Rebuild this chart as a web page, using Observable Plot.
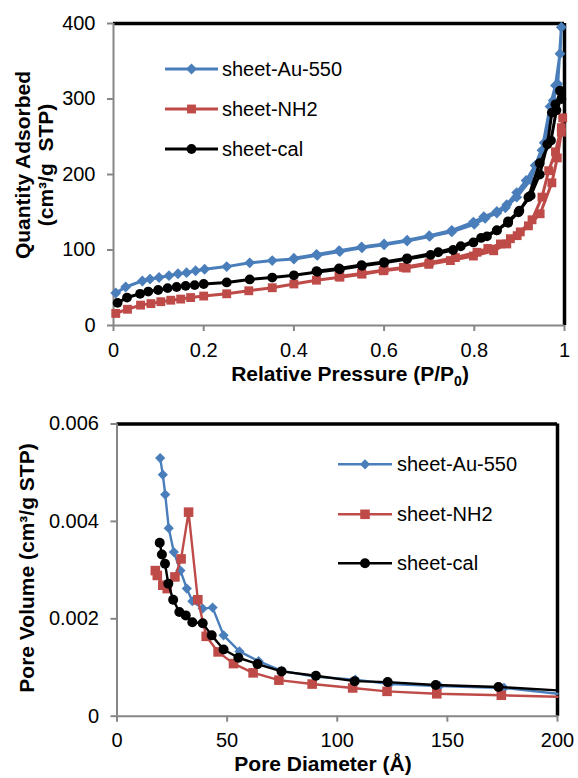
<!DOCTYPE html>
<html>
<head>
<meta charset="utf-8">
<script src="https://cdn.jsdelivr.net/npm/d3@7"></script>
<script src="https://cdn.jsdelivr.net/npm/@observablehq/plot@0.6"></script>
<style>
  body { margin: 0; background: white; }
  #top svg, #bot svg { display: block; }
</style>
</head>
<body>
<div id="top"></div>
<div id="bot"></div>
<script>
// ---------- DATA ----------
const seriesNames = ["sheet-Au-550", "sheet-NH2", "sheet-cal"];

// N2 isotherms: [P/P0, quantity adsorbed] (adsorption branch then desorption branch)
const auIso = [
  [0.005,43],[0.027,51],[0.064,59],[0.081,61.5],[0.101,63.5],[0.123,66],[0.143,68.5],[0.162,70],[0.182,72.5],[0.202,74.5],
  [0.251,78],[0.302,83],[0.352,86],[0.40,88],[0.452,93],[0.502,98],[0.551,103],[0.60,107],[0.651,112],[0.701,118],
  [0.75,124],[0.80,134],[0.824,142],[0.85,149],[0.869,156],[0.894,170],[0.925,193],[0.95,232],[0.968,290],[0.98,318],
  [0.99,360],[0.993,395],
  [0.985,320],[0.975,298],[0.955,242],[0.935,212],[0.915,192],[0.894,176],[0.872,160],[0.85,151],[0.821,144],[0.798,137],
  [0.75,126],[0.70,119],[0.651,113],[0.60,108],[0.55,104],[0.50,99],[0.45,94],[0.40,89]
];
const nhIso = [
  [0.005,16],[0.031,21.5],[0.06,27],[0.083,29],[0.105,31.5],[0.127,33.5],[0.149,35],[0.171,37],[0.20,39],[0.251,42],
  [0.30,46],[0.352,50],[0.40,55],[0.45,60],[0.502,64],[0.551,68],[0.598,72.5],[0.649,76],[0.699,81],[0.747,86],
  [0.798,92],[0.843,99],[0.872,108],[0.895,119],[0.92,132],[0.946,148],[0.972,189],[0.984,222],[0.993,256],[0.996,275],
  [0.993,262],[0.98,230],[0.965,205],[0.95,170],[0.928,140],[0.902,124],[0.88,115],[0.858,108],[0.83,102],[0.806,97],
  [0.758,90],[0.70,83],[0.643,77],[0.60,73.5],[0.55,69],[0.50,65]
];
const calIso = [
  [0.009,30],[0.03,37],[0.059,42],[0.077,45],[0.099,47],[0.12,49.5],[0.14,51],[0.16,52.5],[0.18,53.5],[0.20,55],
  [0.251,57],[0.302,61],[0.352,63.5],[0.40,66.5],[0.452,71],[0.502,74.5],[0.551,79],[0.60,83],[0.651,88],[0.703,93.5],
  [0.753,100],[0.798,110],[0.828,118],[0.85,126],[0.875,136],[0.898,150],[0.92,170],[0.945,215],[0.97,245],[0.982,285],
  [0.99,311],
  [0.993,300],[0.98,293],[0.972,282],[0.962,240],[0.945,200],[0.925,172],[0.9,152],[0.875,138],[0.85,126],[0.815,116],
  [0.77,105],[0.72,97],[0.651,89],[0.60,84],[0.55,80],[0.50,75.5],[0.45,72]
];

// Pore size distributions: [pore diameter (Å), pore volume]
const auPSD = [
  [19.6,0.00530],[20.8,0.00496],[21.9,0.00455],[23.5,0.00386],[25.8,0.00337],[28.8,0.00299],[31.7,0.00262],[34.2,0.00236],
  [38.9,0.00221],[43.4,0.00223],[48.4,0.00166],[55.6,0.00133],[64.3,0.00113],[74.7,0.00093],[90.3,0.00081],[108.2,0.00075],
  [123.8,0.00066],[146.4,0.00062],[175.7,0.00058],[200,0.00046]
];
const nhPSD = [
  [17.4,0.00299],[18.3,0.00289],[20.8,0.00269],[22.8,0.00262],[26.3,0.00286],[29.1,0.00323],[32.5,0.00419],[36.7,0.00239],
  [40.5,0.00164],[45.9,0.00132],[52.9,0.00108],[61.8,0.00089],[73.5,0.00074],[88.6,0.00066],[107,0.00058],[122.6,0.00051],
  [145.2,0.00046],[174.5,0.00043],[200,0.00040]
];
const calPSD = [
  [19.4,0.00356],[20.4,0.00332],[21.8,0.00313],[23.3,0.00272],[25.5,0.00239],[28.3,0.00214],[31.2,0.00207],[34.2,0.00193],
  [38.9,0.00191],[43,0.00166],[48.4,0.00137],[55.1,0.00120],[63.8,0.00107],[74.7,0.00092],[90.3,0.00083],[107.9,0.00072],
  [122.9,0.00070],[144.7,0.00064],[173.2,0.00060],[200,0.00053]
];

const isoXTicks = [0, 0.2, 0.4, 0.6, 0.8, 1];
const isoYTicks = [0, 100, 200, 300, 400];
const psdXTicks = [0, 50, 100, 150, 200];
const psdYTicks = [0, 0.002, 0.004, 0.006];

// ---------- STYLE ----------
const FONT = "'Liberation Sans', Arial, Helvetica, sans-serif";
const BLUE = "#4a7ebb", RED = "#be4b48", BLACK = "#000000", GRAY = "#868686";
const colors = [BLUE, RED, BLACK];
const symbols = ["diamond2", "square", "circle"];

const rows = pairs => pairs.map(([x, y]) => ({x, y}));

function seriesMarks(datasets, radii, lw, xMax) {
  const marks = [];
  datasets.forEach((d, i) => {
    const data = rows(d);
    marks.push(Plot.line(data, {x: "x", y: "y", stroke: colors[i], strokeWidth: lw, curve: "linear"}));
    marks.push(Plot.dot(data.filter(p => xMax == null || p.x < xMax),
      {x: "x", y: "y", symbol: symbols[i], r: radii[i], fill: colors[i]}));
  });
  return marks;
}

function addLegend(svg, x0, x1, tx, ys, radii, lw) {
  const g = d3.select(svg).append("g").attr("text-anchor", "start");
  seriesNames.forEach((name, i) => {
    const y = ys[i];
    g.append("line").attr("x1", x0).attr("x2", x1).attr("y1", y).attr("y2", y)
      .attr("stroke", colors[i]).attr("stroke-width", lw);
    const sym = i === 0 ? d3.symbolDiamond2 : i === 1 ? d3.symbolSquare : d3.symbolCircle;
    g.append("path").attr("d", d3.symbol(sym, Math.PI * radii[i] * radii[i])())
      .attr("transform", `translate(${(x0 + x1) / 2},${y})`).attr("fill", colors[i]);
    g.append("text").attr("x", tx).attr("y", y).attr("dy", "0.35em")
      .attr("text-anchor", "start")
      .attr("font-family", FONT).attr("font-size", 20).attr("fill", "black").text(name);
  });
}

function boldText(svg, attrs) {
  const t = d3.select(svg).append("text")
    .attr("font-family", FONT).attr("font-size", 21).attr("font-weight", "bold").attr("fill", "black");
  for (const k in attrs) t.attr(k, attrs[k]);
  return t;
}

// ---------- TOP: isotherms ----------
const topR = [4.9, 5.0, 4.9];
const svgTop = Plot.plot({
  width: 578, height: 390,
  marginLeft: 113, marginRight: 14, marginTop: 23, marginBottom: 65,
  x: {domain: [0, 1]},
  y: {domain: [0, 400]},
  style: {fontFamily: FONT, fontSize: "20px", color: "black", background: "white"},
  marks: [
    Plot.ruleY([400], {stroke: BLACK, strokeWidth: 3.5}),
    Plot.ruleX([1], {stroke: BLACK, strokeWidth: 3.5}),
    Plot.ruleX([0], {stroke: GRAY, strokeWidth: 2}),
    Plot.ruleY([0], {stroke: GRAY, strokeWidth: 2}),
    ...seriesMarks([auIso, nhIso, calIso], topR, 3, null),
    Plot.axisX({ticks: isoXTicks, tickFormat: d => String(d), tickSize: 6, tickPadding: 11,
      stroke: GRAY, strokeWidth: 2, label: null}),
    Plot.axisY({ticks: isoYTicks, tickFormat: d => String(d), tickSize: 6, tickPadding: 12,
      stroke: GRAY, strokeWidth: 2, label: null})
  ]
});
addLegend(svgTop, 165, 218, 222, [69, 109, 149], topR, 3);
{
  const t = boldText(svgTop, {x: 350, y: 381, "text-anchor": "middle"});
  t.append("tspan").text("Relative Pressure (P/P");
  t.append("tspan").attr("font-size", 14).attr("dy", 5).text("0");
  t.append("tspan").attr("dy", -5).text(")");
  boldText(svgTop, {transform: "translate(30,165) rotate(-90)", "text-anchor": "middle"}).text("Quantity Adsorbed");
  boldText(svgTop, {transform: "translate(53,165) rotate(-90)", "text-anchor": "middle"})
    .attr("xml:space", "preserve").text("(cm³/g  STP)");
}
document.getElementById("top").appendChild(svgTop);

// ---------- BOTTOM: pore size distribution ----------
const botR = [4.6, 5.4, 5.0];
const svgBot = Plot.plot({
  width: 578, height: 388,
  marginLeft: 116.5, marginRight: 21, marginTop: 33.5, marginBottom: 62.3,
  x: {domain: [0, 200]},
  y: {domain: [0, 0.006]},
  style: {fontFamily: FONT, fontSize: "20px", color: "black", background: "white"},
  marks: [
    Plot.ruleY([0.006], {stroke: BLACK, strokeWidth: 3.5}),
    Plot.ruleX([200], {stroke: BLACK, strokeWidth: 3.5}),
    Plot.ruleX([0], {stroke: GRAY, strokeWidth: 2}),
    Plot.ruleY([0], {stroke: GRAY, strokeWidth: 2}),
    ...seriesMarks([auPSD, nhPSD, calPSD], botR, 2.4, 199),
    Plot.axisX({ticks: psdXTicks, tickFormat: d => String(d), tickSize: 6, tickPadding: 11,
      stroke: GRAY, strokeWidth: 2, label: null}),
    Plot.axisY({ticks: psdYTicks, tickFormat: d => String(d), tickSize: 6, tickPadding: 12,
      stroke: GRAY, strokeWidth: 2, label: null})
  ]
});
addLegend(svgBot, 338, 392, 397, [74.3, 124.3, 173.3], botR, 2.5);
{
  boldText(svgBot, {x: 323, y: 381, "text-anchor": "middle"}).text("Pore Diameter (Å)");
  boldText(svgBot, {transform: "translate(34,178) rotate(-90)", "text-anchor": "middle"}).text("Pore Volume (cm³/g STP)");
}
document.getElementById("bot").appendChild(svgBot);
</script>
</body>
</html>
